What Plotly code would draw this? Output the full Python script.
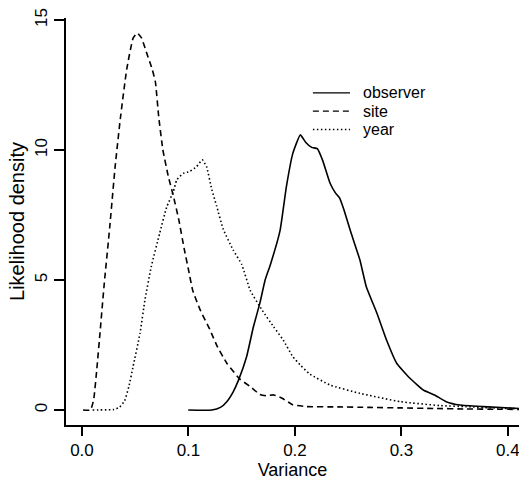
import plotly.graph_objects as go

# ---- data ----
site_x = [0.001, 0.008, 0.011, 0.014, 0.017, 0.021, 0.026, 0.031, 0.036, 0.042, 0.048, 0.052,
          0.056, 0.061, 0.066, 0.069, 0.072, 0.076, 0.081, 0.086, 0.091, 0.096, 0.100, 0.104,
          0.111, 0.120, 0.127, 0.136, 0.148, 0.158, 0.167, 0.173, 0.180, 0.188, 0.198, 0.211,
          0.240, 0.270, 0.300, 0.330, 0.360, 0.390, 0.420]
site_y = [0, 0, 0.4, 1.6, 3.0, 4.9, 7.0, 9.3, 11.2, 13.1, 14.3, 14.5,
          14.3, 13.7, 13.1, 12.6, 11.3, 10.0, 9.0, 8.2, 7.3, 6.2, 5.4, 4.6,
          3.85, 3.1, 2.45, 1.8, 1.2, 0.9, 0.6, 0.55, 0.58, 0.45, 0.2, 0.13,
          0.12, 0.1, 0.08, 0.06, 0.04, 0.03, 0.02]

year_x = [0.010, 0.030, 0.035, 0.040, 0.044, 0.048, 0.0545, 0.059, 0.065, 0.073, 0.0795, 0.0858,
          0.089, 0.095, 0.101, 0.1077, 0.113, 0.117, 0.1218, 0.1264, 0.1327, 0.142, 0.150, 0.158,
          0.169, 0.180, 0.189, 0.198, 0.205, 0.214, 0.233, 0.261, 0.299, 0.336, 0.361, 0.390, 0.420]
year_y = [0, 0.02, 0.1, 0.35, 0.9, 1.67, 2.95, 4.2, 5.5, 6.8, 7.8, 8.4,
          8.85, 9.1, 9.17, 9.36, 9.62, 9.36, 8.5, 7.85, 6.95, 6.15, 5.6, 4.6,
          3.85, 3.2, 2.69, 2.05, 1.73, 1.38, 0.96, 0.64, 0.32, 0.17, 0.13, 0.07, 0.04]

obs_x = [0.0998, 0.122, 0.130, 0.136, 0.142, 0.147, 0.1546, 0.161, 0.167, 0.172, 0.177, 0.186,
         0.192, 0.198, 0.205, 0.210, 0.2157, 0.221, 0.226, 0.233, 0.238, 0.242, 0.246, 0.252,
         0.261, 0.267, 0.277, 0.286, 0.2955, 0.308, 0.3205, 0.331, 0.342, 0.355, 0.377, 0.420]
obs_y = [0, 0, 0.1, 0.32, 0.7, 1.15, 2.05, 3.2, 4.1, 5.0, 5.6, 6.9,
         8.6, 9.87, 10.58, 10.3, 10.1, 10.05, 9.6, 8.72, 8.35, 8.15, 7.7, 6.9,
         5.77, 4.74, 3.72, 2.69, 1.8, 1.22, 0.77, 0.58, 0.32, 0.19, 0.13, 0.04]

series_names = ["observer", "site", "year"]
x_ticks = [0.0, 0.1, 0.2, 0.3, 0.4]
x_tick_labels = ["0.0", "0.1", "0.2", "0.3", "0.4"]
y_ticks = [0, 5, 10, 15]
y_tick_labels = ["0", "5", "10", "15"]

FONT = "Liberation Sans, Arial, Helvetica, sans-serif"
styles = {"observer": "solid", "site": "6px,4px", "year": "1.5px,2.5px"}

fig = go.Figure()
for name, xs, ys in [("observer", obs_x, obs_y), ("site", site_x, site_y), ("year", year_x, year_y)]:
    fig.add_trace(go.Scatter(x=xs, y=ys, mode="lines", name=name, showlegend=False,
                             line=dict(color="black", width=1.6, dash=styles[name],
                                       shape="spline", smoothing=0.4)))

# manual legend (compact, R style)
leg_rows = [0.816, 0.771, 0.726]
for name, yy in zip(series_names, leg_rows):
    fig.add_shape(type="line", xref="paper", yref="paper", x0=0.545, x1=0.627, y0=yy, y1=yy,
                  line=dict(color="black", width=1.3, dash=styles[name]))
    fig.add_annotation(xref="paper", yref="paper", x=0.653, y=yy, text=name, showarrow=False,
                       xanchor="left", yanchor="middle", borderpad=0,
                       font=dict(size=16, color="black", family=FONT))

fig.update_layout(
    width=519, height=480,
    margin=dict(l=66, r=0, t=18, b=55),
    paper_bgcolor="white", plot_bgcolor="white",
    font=dict(family=FONT, size=17, color="black"),
    showlegend=False,
)
fig.update_xaxes(range=[-0.015, 0.4104], tickvals=x_ticks, ticktext=x_tick_labels,
                 ticks="outside", ticklen=9, tickwidth=1.5, tickcolor="black",
                 ticklabeloverflow="allow", tickfont=dict(size=17),
                 showline=True, linecolor="black", linewidth=1.5, showgrid=False, zeroline=False,
                 title=dict(text="Variance", standoff=3, font=dict(size=18)))
fig.update_yaxes(range=[-0.577, 15.077], tickvals=y_ticks, ticktext=y_tick_labels, tickangle=-90,
                 ticks="outside", ticklen=10, tickwidth=1.5, tickcolor="black",
                 showline=True, linecolor="black", linewidth=1.5, showgrid=False, zeroline=False,
                 title=dict(text="Likelihood density", standoff=2, font=dict(size=20)))

fig.write_html("out.html")
